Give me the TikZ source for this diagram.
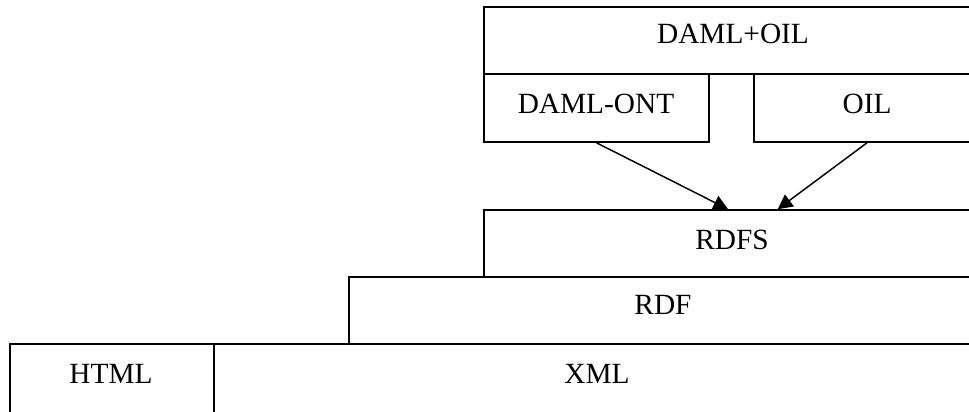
\documentclass[tikz,border=0pt]{standalone}
\usepackage{fontspec}
\setmainfont{Liberation Serif}
\usetikzlibrary{fit,arrows.meta}
\begin{document}
\begin{tikzpicture}[x=0.75pt,y=-0.75pt,
  box/.style={draw=black, line width=1.2pt, inner sep=0pt, rectangle},
  lbl/.style={anchor=base, inner sep=0pt, font=\fontsize{22}{26}\selectfont},
  arr/.style={draw=black, line width=1.1pt, -{Triangle[length=11pt,width=11pt]}}]
\useasboundingbox (0,0) rectangle (969,411);
\clip (0,0) rectangle (969,411);
\fill[white] (0,0) rectangle (969,411);
% boxes
\node[box, fit={(484,7) (978,74)}] (damloil) {};
\node[box, fit={(484,74) (709,142)}] (dont) {};
\node[box, fit={(754,74) (980,142)}] (oil) {};
\node[box, fit={(484,210) (978,277)}] (rdfs) {};
\node[box, fit={(349,277) (978,344)}] (rdf) {};
\node[box, fit={(10,344) (214,425)}] (html) {};
\node[box, fit={(214,344) (978,425)}] (xml) {};
% labels
\node[lbl] (tdamloil) at (733,43) {DAML+OIL};
\node[lbl] (tdont) at (596,113) {DAML-ONT};
\node[lbl] (toil) at (867,113) {OIL};
\node[lbl] (trdfs) at (732,249) {RDFS};
\node[lbl] (trdf) at (663,314) {RDF};
\node[lbl] (thtml) at (111,383) {HTML};
\node[lbl] (txml) at (597,383) {XML};
% arrows
\draw[arr] (dont.south) -- ([xshift=-2.2pt]rdfs.north);
\draw[arr] (oil.south) -- ([xshift=35pt]rdfs.north);
\end{tikzpicture}
\end{document}
